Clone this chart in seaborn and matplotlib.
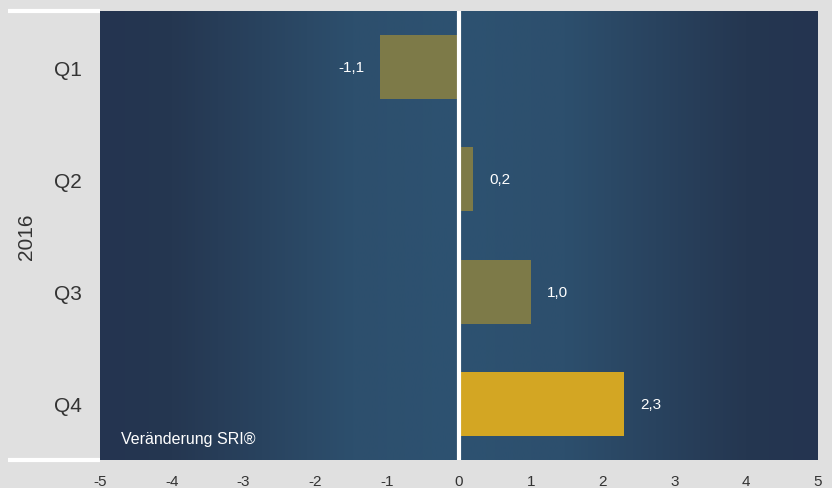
import matplotlib
matplotlib.use("Agg")
import matplotlib.pyplot as plt
import seaborn as sns
import numpy as np
import pandas as pd
from matplotlib.colors import LinearSegmentedColormap

quarters = ["Q1", "Q2", "Q3", "Q4"]
values = [-1.1, 0.2, 1.0, 2.3]
labels = ["-1,1", "0,2", "1,0", "2,3"]
bar_colors = ["#7d7a48", "#7d7a48", "#7d7a48", "#d3a623"]
xticks = [-5, -4, -3, -2, -1, 0, 1, 2, 3, 4, 5]
year = "2016"
caption = "Veränderung SRI®"

df = pd.DataFrame({"quarter": quarters, "value": values})

sns.set_theme(style="white")
plt.rcParams["font.family"] = ["Liberation Sans", "DejaVu Sans"]

fig = plt.figure(figsize=(8.32, 4.89), dpi=100, facecolor="#e0e0e0")
ax = fig.add_axes([100 / 832, 1 - 461 / 489, 718 / 832, 449 / 489])
ax.set_facecolor("#e0e0e0")

# background gradient
grad_cmap = LinearSegmentedColormap.from_list(
    "bg", [(0.0, "#243450"), (0.1, "#253751"), (0.35, "#2d4f6d"),
           (0.5, "#2d5271"), (0.65, "#2d4f6d"), (0.9, "#253751"), (1.0, "#243450")])
grad = np.linspace(0, 1, 256).reshape(1, -1)
ax.imshow(grad, cmap=grad_cmap, aspect="auto", extent=(-5, 5, 3.5, -0.5), zorder=0)

sns.barplot(data=df, x="value", y="quarter", hue="quarter", palette=bar_colors,
            orient="h", width=0.57, legend=False, ax=ax, zorder=2, saturation=1,
            linewidth=0, edgecolor="none")

ax.axvline(0, color="white", lw=3, zorder=3)

for i, (v, t) in enumerate(zip(values, labels)):
    if v < 0:
        ax.text(v - 0.22, i, t, ha="right", va="center", color="white", fontsize=11, zorder=4)
    else:
        ax.text(v + 0.22, i, t, ha="left", va="center", color="white", fontsize=11, zorder=4)

ax.text(-4.71, 3.31, caption, ha="left", va="center", color="white", fontsize=11.5, zorder=4)

ax.set_xlim(-5, 5)
ax.set_ylim(3.5, -0.5)
ax.set_xticks(xticks)
ax.set_xticklabels([str(x) for x in xticks], fontsize=11, color="#333333")
ax.tick_params(axis="y", labelsize=15, labelcolor="#333333", length=0, pad=13)
ax.tick_params(axis="x", length=0, pad=10)
ax.set_xlabel("")
ax.set_ylabel(year, fontsize=15, color="#333333", labelpad=13)
for s in ax.spines.values():
    s.set_visible(False)

# white strip lines at left
for yy in (12, 461):
    fig.add_artist(plt.Line2D([8 / 832, 100 / 832], [1 - yy / 489, 1 - yy / 489],
                              color="white", lw=3, solid_capstyle="butt",
                              transform=fig.transFigure))

fig.savefig("out.png", dpi=100, facecolor=fig.get_facecolor())
